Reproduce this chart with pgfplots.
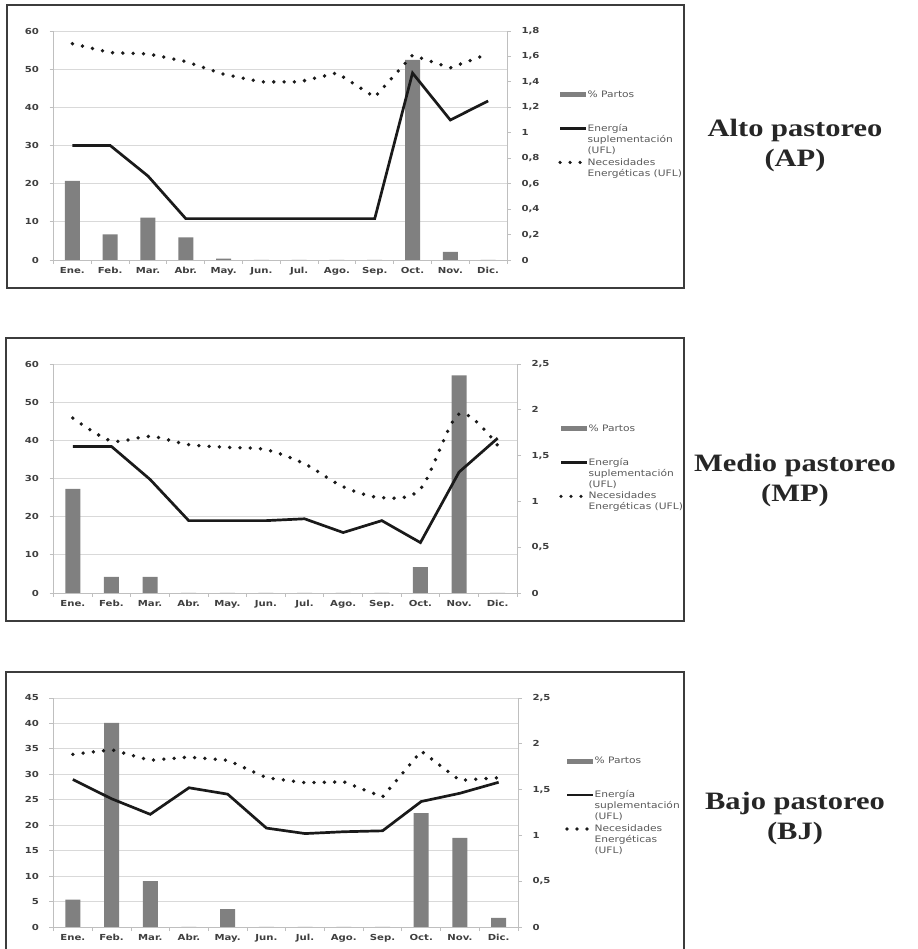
\documentclass[border=0pt]{standalone}
\usepackage{fontspec}
\setmainfont{DejaVu Sans}[FakeStretch=1.2]
\newfontfamily\tickfont{DejaVu Sans}[FakeStretch=1.22]
\newfontfamily\titlefont{Liberation Serif}[FakeStretch=1.22]
\usepackage{pgfplots}
\usepackage{pgfplotstable}
\pgfplotsset{compat=1.18}

\definecolor{barcol}{HTML}{808080}
\definecolor{linecol}{HTML}{1A1A1A}
\definecolor{axiscol}{HTML}{BFBFBF}
\definecolor{gridcol}{HTML}{D9D9D9}
\definecolor{tickcol}{HTML}{3F3F3F}
\definecolor{legcol}{HTML}{595959}
\definecolor{framecol}{HTML}{3C3C3C}

% x: mes (0 = Ene.), partos: % partos, ener: energia suplementacion, nec: necesidades
\pgfplotstableread{
x partos ener nec
0 20.7 0.90 1.70
1 6.7 0.90 1.63
2 11.1 0.66 1.62
3 5.9 0.325 1.56
4 0.35 0.325 1.46
5 0 0.325 1.40
6 0 0.325 1.40
7 0 0.325 1.47
8 0 0.325 1.28
9 52.4 1.47 1.61
10 2.1 1.10 1.51
11 0 1.25 1.62
}\datAP
\pgfplotstableread{
x partos ener nec
0 27.3 1.60 1.91
1 4.2 1.60 1.66
2 4.2 1.24 1.71
3 0 0.79 1.62
4 0 0.79 1.59
5 0 0.79 1.565
6 0 0.81 1.41
7 0 0.66 1.16
8 0 0.79 1.04
9 6.8 0.55 1.135
10 57.0 1.32 1.955
11 0 1.69 1.61
}\datMP
\pgfplotstableread{
x partos ener nec
0 5.4 1.61 1.885
1 40.1 1.40 1.935
2 9.0 1.23 1.82
3 0 1.52 1.855
4 3.5 1.45 1.82
5 0 1.08 1.63
6 0 1.02 1.575
7 0 1.04 1.585
8 0 1.05 1.42
9 22.4 1.37 1.92
10 17.5 1.46 1.60
11 1.8 1.58 1.63
}\datBJ

\pgfplotsset{
  panel/.style={scale only axis, height=229pt, xmin=-0.5, xmax=11.5, ymin=0,
    /pgf/number format/assume math mode=true,
    major tick length=4pt, tick align=outside,
    axis line style={axiscol, line width=0.8pt},
    tick style={axiscol, line width=0.8pt},
    ticklabel style={font=\tickfont\bfseries\fontsize{8.3}{10}\selectfont, text=tickcol}},
  leftax/.style={panel, axis x line*=bottom, axis y line*=left,
    ymajorgrids, grid style={gridcol, line width=0.8pt},
    xtick={-0.5,0.5,...,11.5}, x tick label as interval,
    xticklabels={Ene.,Feb.,Mar.,Abr.,May.,Jun.,Jul.,Ago.,Sep.,Oct.,Nov.,Dic.},
    yticklabel style={xshift=-7pt},
    ybar, bar width=15pt},
  rightax/.style={panel, axis y line*=right, axis x line=none,
    /pgf/number format/use comma,
    yticklabel style={xshift=7pt},
    legend cell align=left,
    legend style={draw=none, fill=none, inner sep=0pt, outer sep=0pt, anchor=north west,
      font=\fontsize{8.9}{11}\selectfont, text=legcol, row sep=2.5pt, column sep=1pt,
      nodes={align=left, inner sep=0.5pt}}},
  % legend images drawn on the first text line of each entry
  barimg/.style={legend image code/.code={\path[draw=none, fill=none] (0pt,-2pt) rectangle (25pt,2pt);
    \fill[barcol, overlay] (0pt,9pt) rectangle (25pt,13pt);}},
  solidln/.style={linecol, line width=2.7pt,
    legend image code/.code={\path[draw=none, fill=none] (0pt,-1pt) rectangle (26pt,1pt);
      \draw[linecol, line width=2.2pt, overlay] (0pt,11pt) -- (26pt,11pt);}},
  dotln/.style={linecol, line width=3.8pt, line cap=round, dash pattern=on 0pt off 10.3pt},
  dotimg/.style={legend image code/.code={\path[draw=none, fill=none] (0pt,-1pt) rectangle (21pt,1pt);
      \draw[linecol, line width=3.6pt, line cap=round, dash pattern=on 0pt off 10pt, overlay] (0pt,#1) -- (21pt,#1);}},
}

\begin{document}
\begin{tikzpicture}
\useasboundingbox (0,0) rectangle (917pt,949pt);

% marcos
\draw[framecol, line width=1.6pt] (7pt,661pt) rectangle (684pt,944pt);
\draw[framecol, line width=1.6pt] (6pt,328pt) rectangle (684pt,611pt);
\draw[framecol, line width=1.6pt] (6pt,-5pt) rectangle (684pt,277pt);

% Alto pastoreo
\begin{axis}[leftax, at={(53.5pt,689pt)}, anchor=south west, width=453.5pt, ymax=60, ytick={0,10,...,60}]
\addplot[fill=barcol, draw=none] table[x=x, y=partos] {\datAP};
\end{axis}
\begin{axis}[rightax, at={(53.5pt,689pt)}, anchor=south west, width=453.5pt, ymax=1.8,
  ytick={0,0.2,0.4,0.6,0.8,1,1.2,1.4,1.6,1.8}, legend style={at={(1.117,0.742)}}]
\addlegendimage{barimg}
\addlegendentry{\% Partos\\\mbox{}\\\mbox{}}
\addplot[solidln] table[x=x, y=ener] {\datAP};
\addlegendentry{Energía\\suplementación\\(UFL)}
\addplot[dotln, dotimg=5.5pt] table[x=x, y=nec] {\datAP};
\addlegendentry{Necesidades\\Energéticas (UFL)}
\end{axis}

% Medio pastoreo
\begin{axis}[leftax, at={(53.5pt,356pt)}, anchor=south west, width=463.5pt, ymax=60, ytick={0,10,...,60}]
\addplot[fill=barcol, draw=none] table[x=x, y=partos] {\datMP};
\end{axis}
\begin{axis}[rightax, at={(53.5pt,356pt)}, anchor=south west, width=463.5pt, ymax=2.5,
  ytick={0,0.5,1,1.5,2,2.5}, legend style={at={(1.095,0.738)}}]
\addlegendimage{barimg}
\addlegendentry{\% Partos\\\mbox{}\\\mbox{}}
\addplot[solidln] table[x=x, y=ener] {\datMP};
\addlegendentry{Energía\\suplementación\\(UFL)}
\addplot[dotln, dotimg=5.5pt, smooth, tension=0.5] table[x=x, y=nec] {\datMP};
\addlegendentry{Necesidades\\Energéticas (UFL)}
\end{axis}

% Bajo pastoreo
\begin{axis}[leftax, at={(53.5pt,22pt)}, anchor=south west, width=464.5pt, ymax=45, ytick={0,5,...,45}]
\addplot[fill=barcol, draw=none] table[x=x, y=partos] {\datBJ};
\end{axis}
\begin{axis}[rightax, at={(53.5pt,22pt)}, anchor=south west, width=464.5pt, ymax=2.5,
  ytick={0,0.5,1,1.5,2,2.5}, legend style={at={(1.1055,0.744)}}]
\addlegendimage{barimg}
\addlegendentry{\% Partos\\\mbox{}\\\mbox{}}
\addplot[solidln] table[x=x, y=ener] {\datBJ};
\addlegendentry{Energía\\suplementación\\(UFL)}
\addplot[dotln, dotimg=11pt] table[x=x, y=nec] {\datBJ};
\addlegendentry{Necesidades\\Energéticas\\(UFL)}
\end{axis}

% titulos
\begin{scope}[every node/.style={align=center, font=\titlefont\bfseries\fontsize{25}{30}\selectfont, text=black!85}]
\node at (795pt,803.5pt) {Alto pastoreo\\(AP)};
\node at (795pt,468.5pt) {Medio pastoreo\\(MP)};
\node at (795pt,131pt) {Bajo pastoreo\\(BJ)};
\end{scope}
\end{tikzpicture}
\end{document}
